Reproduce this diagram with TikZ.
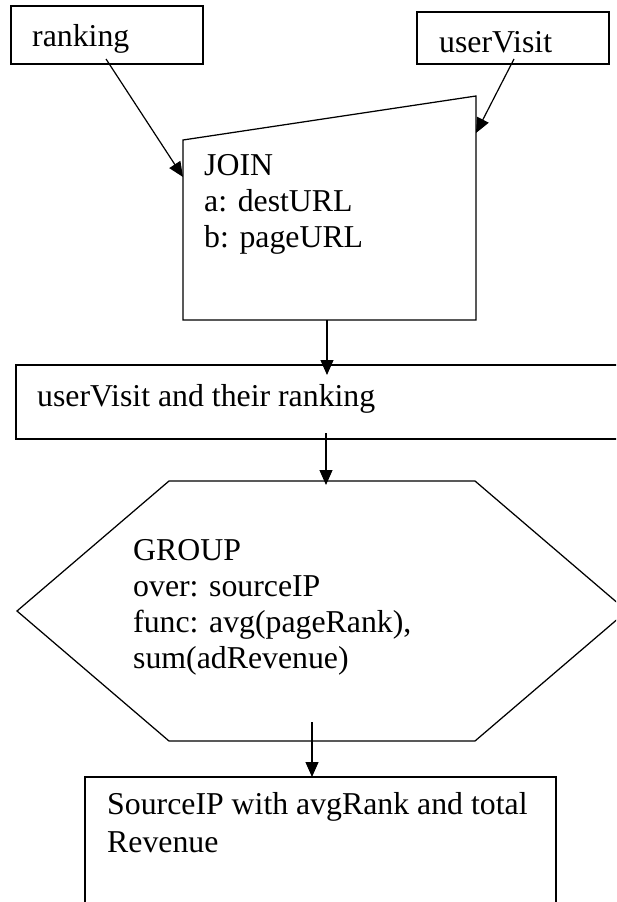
\documentclass[tikz,border=0pt]{standalone}
\usepackage{fontspec}
\setmainfont{Liberation Serif}
\usetikzlibrary{arrows.meta}
\begin{document}
\begin{tikzpicture}[x=1pt,y=-1pt,
  shape line/.style={draw=black, line width=1.25pt, line join=miter},
  boxnode/.style={shape line, rectangle, inner sep=0pt, fill=white},
  label text/.style={anchor=base west, inner sep=0pt, font=\fontsize{31.8}{36}\selectfont},
  flow/.style={draw=black, line width=1.2pt, -{Triangle[length=15pt,width=13pt]}}]
\useasboundingbox (0,0) rectangle (616,902);
\clip (0,0) rectangle (616,902);
\fill[white] (0,0) rectangle (616,902);

% input tables
\node[boxnode, minimum width=192pt, minimum height=58pt] (ranking) at (107,35) {};
\node[boxnode, minimum width=192pt, minimum height=52pt] (uservisit) at (513,38) {};
\node[label text] (rankingT) at (32,46) {ranking};
\node[label text] (uservisitT) at (439,52) {userVisit};

% join operator (slanted top)
\draw[shape line, fill=white] (183,140) coordinate (joinNW) -- (476,96) coordinate (joinNE)
  -- (476,320) coordinate (joinSE) -- (183,320) coordinate (joinSW) -- cycle;
\node[label text] (joinT1) at (204,175) {JOIN};
\node[label text] (joinT2) at (204,211) {a: destURL};
\node[label text] (joinT3) at (204,247) {b: pageURL};

% intermediate result
\node[boxnode, minimum width=634pt, minimum height=74pt] (joined) at (333,402) {};
\node[label text] (joinedT) at (37,406) {userVisit and their ranking};

% group operator (hexagon)
\draw[shape line, fill=white] (169,481) coordinate (grpNW) -- (475,481) coordinate (grpNE)
  -- (627,611) coordinate (grpE) -- (475,741) coordinate (grpSE)
  -- (169,741) coordinate (grpSW) -- (17,611) coordinate (grpW) -- cycle;
\node[label text] (grpT1) at (133,560) {GROUP};
\node[label text] (grpT2) at (133,596) {over: sourceIP};
\node[label text] (grpT3) at (133,632) {func: avg(pageRank),};
\node[label text] (grpT4) at (133,668) {sum(adRevenue)};

% final result
\node[boxnode, minimum width=471pt, minimum height=163pt] (result) at (320.5,858.5) {};
\node[label text] (resultT1) at (107,814) {SourceIP with avgRank and total};
\node[label text] (resultT2) at (107,852) {Revenue};

% connector end points
\coordinate (rankOut) at (106,59);
\coordinate (joinInA) at (183,177);
\coordinate (visitOut) at (514,59);
\coordinate (joinInB) at (476,133);
\coordinate (joinOut) at (327,320);
\coordinate (joinedIn) at (327,375);
\coordinate (joinedOut) at (326,433);
\coordinate (grpIn) at (326,485);
\coordinate (grpOut) at (312,722);
\coordinate (resultIn) at (312,777);

\draw[flow] (rankOut) -- (joinInA);
\draw[flow] (visitOut) -- (joinInB);
\draw[flow] (joinOut) -- (joinedIn);
\draw[flow] (joinedOut) -- (grpIn);
\draw[flow] (grpOut) -- (resultIn);
\end{tikzpicture}
\end{document}
